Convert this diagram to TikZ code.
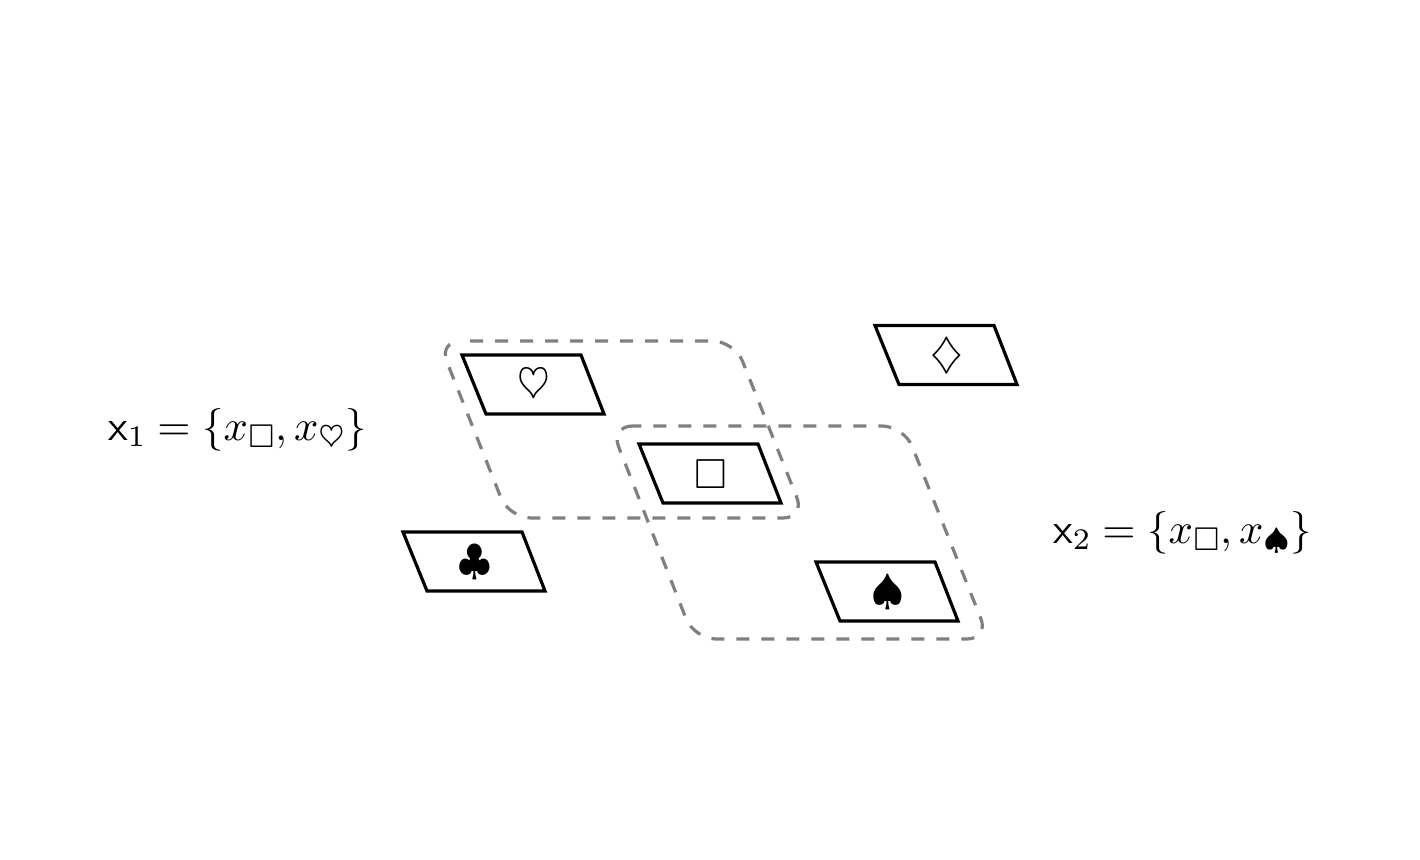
\documentclass[tikz,border=0pt]{standalone}
\usepackage{amssymb}
\usetikzlibrary{calc}
\DeclareFontFamily{U}{msa}{}
\DeclareFontShape{U}{msa}{m}{n}{<29.4> msam7 <21> msam5 <-> msam10}{}
\DeclareFontShape{OML}{cmm}{m}{it}{<29.4> cmmi7 <21> cmmi5 <-> cmmi10}{}
\DeclareFontShape{OMS}{cmsy}{m}{n}{<29.4> cmsy7 <21> cmsy5 <-> cmsy10}{}
\DeclareFontShape{OT1}{cmr}{m}{n}{<29.4> cmr7 <21> cmr5 <-> cmr10}{}
\DeclareFontFamily{OT1}{cmss}{\hyphenchar\font45}
\DeclareFontShape{OT1}{cmss}{m}{n}{<29.4> cmss8 <21> cmss8 <-> cmss10}{}
\DeclareMathSizes{42}{42}{29.4}{21}
\tikzset{
  cardedge/.style={draw=black,line width=3.2pt,line join=miter},
  suit/.style={inner sep=0pt,font=\fontsize{42}{50}\selectfont},
  setlabel/.style={inner sep=0pt,anchor=west,scale=1.016,font=\fontsize{42}{50}\selectfont},
  region/.style={draw=gray,line width=3.2pt,rounded corners=22pt}
}
\newcommand{\card}[3]{%
  \node[suit] (#1) at (#2) {$#3$};
  \draw[cardedge] ($(#1)+(-72,-30.5)$) -- ($(#1)+(47,-30.5)$) -- ($(#1)+(70,28.5)$) -- ($(#1)+(-48,28.5)$) -- cycle;
}
\begin{document}
\begin{tikzpicture}[x=1pt,y=-1pt]
\useasboundingbox (0,0) rectangle (1420,859);
\card{heart}{534,385.5}{\heartsuit}
\card{square}{711,474.5}{\square}
\card{club}{475,562.5}{\clubsuit}
\card{spade}{888,592.5}{\spadesuit}
\card{diamond}{947,356}{\diamondsuit}
\draw[region,dash pattern=on 13pt off 12pt,dash phase=15.6pt] (438.6,341) -- (734.5,341) -- (805,518) -- (509,518) -- cycle;
\draw[region,dash pattern=on 13pt off 12pt,dash phase=4.2pt] (610.5,426) -- (904,426) -- (989,639) -- (694,639) -- cycle;
\node[setlabel] (xone) at (108,429.5) {$\mathsf{x}_1=\{x_\square,x_\heartsuit\}$};
\node[setlabel] (xtwo) at (1053,532.5) {$\mathsf{x}_2=\{x_\square,x_\spadesuit\}$};
\end{tikzpicture}
\end{document}
